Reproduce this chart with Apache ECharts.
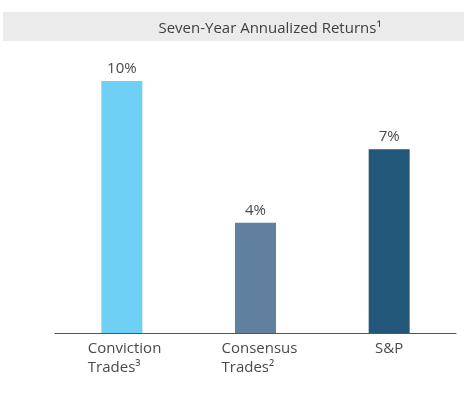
<!DOCTYPE html>
<html><head><meta charset="utf-8">
<script src="https://cdn.jsdelivr.net/npm/echarts@6/dist/echarts.min.js"></script>
<style>html,body{margin:0;padding:0;background:#fff}#c{width:464px;height:399px}</style>
</head><body><div id="c"></div>
<script>
const titleText = 'Seven-Year Annualized Returns\u00B9';
const categories = ['Conviction\nTrades\u00B3', 'Consensus\nTrades\u00B2', 'S&P'];
const values = [9.6, 4.2, 7.0];
const colors = ['#6dd0f4', '#617f9f', '#23577a'];

const chart = echarts.init(document.getElementById('c'));
const font = '"Open Sans", "Noto Sans", sans-serif';
chart.setOption({
  animation: false,
  graphic: [{ type: 'rect', shape: { x: 3, y: 12, width: 461, height: 29 }, style: { fill: '#ebebeb' }, z: -1 }],
  title: { text: titleText, left: 265, top: 16, textAlign: 'center',
    textStyle: { fontFamily: font, fontSize: 15, fontWeight: 'normal', color: '#404040' } },
  grid: { left: 55, right: 8, top: 18, bottom: 66 },
  xAxis: {
    type: 'category', data: categories,
    axisLine: { lineStyle: { color: '#555', width: 1 } },
    axisTick: { show: false },
    axisLabel: {
      margin: 6, interval: 0,
      formatter: function (v) {
        if (v.indexOf('\n') < 0) return '{s|' + v + '}';
        return v.split('\n').map(l => '{m|' + l + '}').join('\n');
      },
      rich: {
        m: { fontFamily: font, fontSize: 15, color: '#4a4a4a', width: 74, align: 'left', lineHeight: 19, padding: [0, 0, 0, 6] },
        s: { fontFamily: font, fontSize: 15, color: '#4a4a4a', lineHeight: 19 }
      }
    }
  },
  yAxis: { type: 'value', min: 0, max: 12, show: false, splitLine: { show: false } },
  series: [{
    type: 'bar', barWidth: 41,
    data: values.map((v, i) => ({ value: v, itemStyle: { color: colors[i] } })),
    label: { show: true, position: 'top', distance: 5, fontFamily: font, fontSize: 15, color: '#4a4a4a',
      formatter: p => Math.round(p.value) + '%' }
  }]
});
</script></body></html>
